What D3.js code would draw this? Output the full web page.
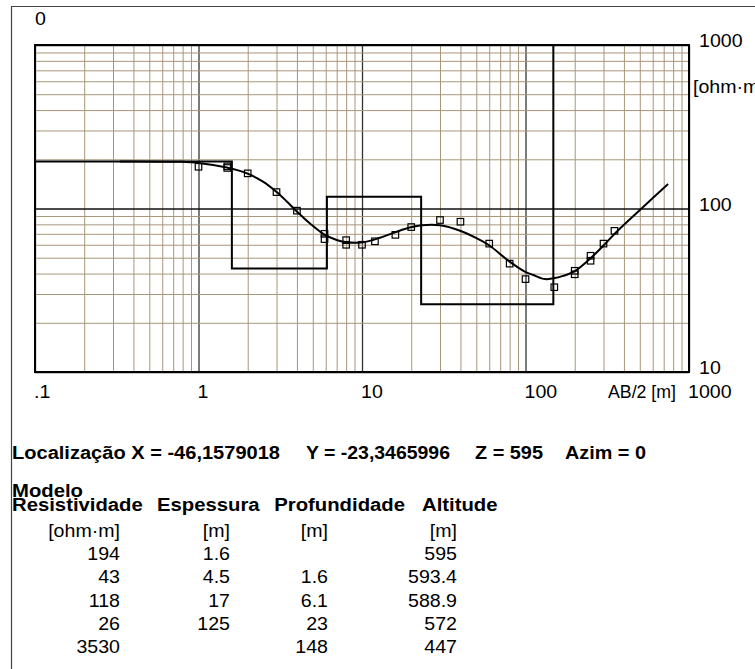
<!DOCTYPE html>
<html>
<head>
<meta charset="utf-8">
<script src="https://cdn.jsdelivr.net/npm/d3@7"></script>
<style>
  html, body { margin: 0; padding: 0; background: #fff; }
  svg { display: block; font-family: "Liberation Sans", Arial, sans-serif; }
</style>
</head>
<body>
<script>
// Sounding data: apparent resistivity vs AB/2 (Schlumberger array)
const abHalf  = [1, 1.5, 1.5, 2, 3, 4, 5.9, 5.9, 8, 8, 10, 12, 16, 20, 30, 40, 60, 80, 100, 150, 200, 200, 250, 250, 300, 350];
const rhoObs  = [180, 181, 177, 164, 126, 97, 70, 65, 64, 60, 60, 63, 69, 77, 85, 83, 61, 46, 37, 33, 41.6, 39.6, 51.4, 47.9, 61, 73];

// Fitted (computed) curve
const fitAB  = [0.33, 0.77, 1.0, 1.49, 1.98, 2.48, 2.98, 3.48, 3.95, 4.81, 5.86, 7.0, 8.06, 10.1, 12.9, 16.3, 19.9, 23.2, 30, 39.8, 50.3, 59.6, 80, 99, 111.6, 131.6, 148, 170, 198, 247, 298, 361, 501, 745];
const fitRho = [194, 193, 190, 178, 164, 146, 127, 110, 97, 81, 69.5, 64.2, 62.1, 62.1, 66.3, 72.1, 76.7, 78.9, 78.9, 73.1, 65.7, 59.8, 47.3, 41.1, 39.2, 37, 37.4, 38.7, 41.1, 49.1, 59, 72.1, 97.9, 141];

// Layered model
const layerRes    = [194, 43, 118, 26, 3530];
const layerDepth  = [null, 1.6, 6.1, 23, 148];
const resLabels   = ["194", "43", "118", "26", "3530"];
const thickLabels = ["1.6", "4.5", "17", "125", ""];
const depthLabels = ["", "1.6", "6.1", "23", "148"];
const altLabels   = ["595", "593.4", "588.9", "572", "447"];

// Axis ticks
const xTickValues = [0.1, 1, 10, 100, 1000];
const xTickLabels = [".1", "1", "10", "100", "1000"];
const yTickValues = [10, 100, 1000];
const yTickLabels = ["10", "100", "1000"];

const W = 755, H = 669;
const plot = { left: 35, right: 689, top: 45, bottom: 372 };
const SX = 1.12;   // horizontal stretch, regular text
const SXB = 1.16;  // horizontal stretch, bold text
const FS = 17.5;

const svg = d3.select("body").append("svg").attr("width", W).attr("height", H);
svg.append("rect").attr("width", W).attr("height", H).attr("fill", "#fff");

// outer frame (left and top edges)
svg.append("path")
  .attr("d", `M11.5,${H} L11.5,6.5 L${W},6.5`)
  .attr("fill", "none").attr("stroke", "#444").attr("stroke-width", 1.2);

const x = d3.scaleLog().domain([0.1, 1000]).range([plot.left, plot.right]);
const y = d3.scaleLog().domain([10, 1000]).range([plot.bottom, plot.top]);
const pw = plot.right - plot.left, ph = plot.bottom - plot.top;

const isDecade = v => Math.abs(Math.log10(v) - Math.round(Math.log10(v))) < 1e-9;
const GRID = "#a8967a";

// vertical grid
const gx = svg.append("g")
  .attr("transform", `translate(0,${plot.bottom})`)
  .call(d3.axisBottom(x).tickValues(x.ticks()).tickSize(-ph).tickFormat(""));
gx.select(".domain").remove();
gx.selectAll(".tick line")
  .attr("stroke", d => isDecade(d) ? "#333" : GRID)
  .attr("stroke-width", d => isDecade(d) ? 1.3 : 1);

// horizontal grid
const gy = svg.append("g")
  .attr("transform", `translate(${plot.left},0)`)
  .call(d3.axisLeft(y).tickValues(y.ticks()).tickSize(-pw).tickFormat(""));
gy.select(".domain").remove();
gy.selectAll(".tick line")
  .attr("stroke", d => isDecade(d) ? "#111" : GRID)
  .attr("stroke-width", d => isDecade(d) ? 1.4 : 1);

// clip for plot content
svg.append("clipPath").attr("id", "plotclip")
  .append("rect").attr("x", plot.left).attr("y", plot.top).attr("width", pw).attr("height", ph);
const content = svg.append("g").attr("clip-path", "url(#plotclip)");

// model step line
const stepPts = layerRes.map((r, i) => [i === 0 ? 0.1 : layerDepth[i], r]);
content.append("path")
  .datum(stepPts)
  .attr("d", d3.line().x(d => x(d[0])).y(d => y(d[1])).curve(d3.curveStepAfter))
  .attr("fill", "none").attr("stroke", "#000").attr("stroke-width", 2);

// fitted curve
content.append("path")
  .datum(fitAB.map((a, i) => [a, fitRho[i]]))
  .attr("d", d3.line().x(d => x(d[0])).y(d => y(d[1])).curve(d3.curveCatmullRom))
  .attr("fill", "none").attr("stroke", "#000").attr("stroke-width", 2);

// observed points
const S = 6.5;
content.selectAll("rect.obs")
  .data(abHalf.map((a, i) => [a, rhoObs[i]]))
  .join("rect").attr("class", "obs")
  .attr("x", d => x(d[0]) - S / 2).attr("y", d => y(d[1]) - S / 2)
  .attr("width", S).attr("height", S)
  .attr("fill", "none").attr("stroke", "#000").attr("stroke-width", 1.2);

// plot frame
svg.append("rect")
  .attr("x", plot.left).attr("y", plot.top).attr("width", pw).attr("height", ph)
  .attr("fill", "none").attr("stroke", "#000").attr("stroke-width", 2);

// text helper: stretched horizontally, or fitted to a given width
function label(px, py, str, opts = {}) {
  const t = svg.append("text")
    .attr("font-size", opts.size || FS)
    .attr("font-weight", opts.bold ? "bold" : "normal")
    .attr("fill", "#000")
    .text(str);
  if (opts.len) {
    const left = opts.anchor === "end" ? px - opts.len : px;
    t.attr("x", left).attr("y", py)
     .attr("textLength", opts.len).attr("lengthAdjust", "spacingAndGlyphs");
  } else {
    t.attr("transform", `translate(${px},${py}) scale(${opts.bold ? SXB : SX},1)`)
     .attr("text-anchor", opts.anchor || "start");
  }
  return t;
}

// axis labels
xTickValues.forEach((v, i) => label(x(v) - 1, 398, xTickLabels[i]));
yTickValues.forEach((v, i) => label(plot.right + 10, y(v) + 2, yTickLabels[i]));
label(608, 398, "AB/2 [m]", { len: 68 });
label(693, 93, "[ohm·m]");
label(35, 25, "0");

// location line
label(12, 459, "Localização X = -46,1579018", { bold: true, len: 268 });
label(306, 459, "Y = -23,3465996", { bold: true, len: 144 });
label(475, 459, "Z = 595", { bold: true, len: 68 });
label(565, 459, "Azim = 0", { bold: true, len: 81 });

// model table headers
label(12, 496.5, "Modelo", { bold: true });
label(12, 511, "Resistividade", { bold: true });
label(157, 511, "Espessura", { bold: true });
label(405, 511, "Profundidade", { bold: true, anchor: "end" });
label(422, 511, "Altitude", { bold: true });

const colRight = [120, 230, 328, 457];
label(colRight[0], 537, "[ohm·m]", { anchor: "end" });
label(colRight[1], 537, "[m]", { anchor: "end" });
label(colRight[2], 537, "[m]", { anchor: "end" });
label(colRight[3], 537, "[m]", { anchor: "end" });

resLabels.forEach((r, i) => {
  const rowY = 560 + i * 23.3;
  label(colRight[0], rowY, r, { anchor: "end" });
  if (thickLabels[i]) label(colRight[1], rowY, thickLabels[i], { anchor: "end" });
  if (depthLabels[i]) label(colRight[2], rowY, depthLabels[i], { anchor: "end" });
  label(colRight[3], rowY, altLabels[i], { anchor: "end" });
});
</script>
</body>
</html>
